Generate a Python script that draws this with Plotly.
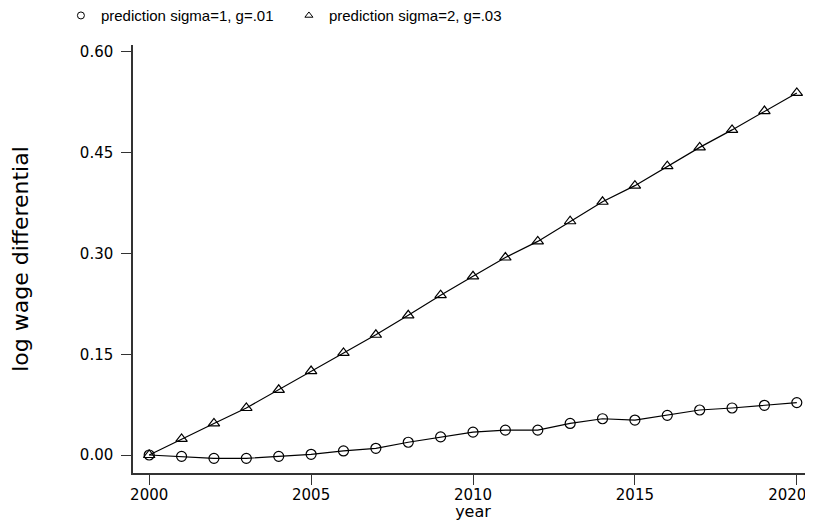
import plotly.graph_objects as go

years = list(range(2000, 2021))
sigma1_g01 = [0.000, -0.002, -0.005, -0.005, -0.002, 0.001, 0.006, 0.010, 0.019, 0.027,
              0.034, 0.037, 0.037, 0.047, 0.054, 0.052, 0.059, 0.067, 0.070, 0.074, 0.078]
sigma2_g03 = [0.000, 0.024, 0.047, 0.070, 0.097, 0.125, 0.152, 0.179, 0.208, 0.238,
              0.266, 0.294, 0.318, 0.348, 0.377, 0.401, 0.430, 0.458, 0.484, 0.512, 0.539]
name1 = "prediction sigma=1, g=.01"
name2 = "prediction sigma=2, g=.03"
x_ticks = [2000, 2005, 2010, 2015, 2020]
# last label padded with trailing no-break spaces so it sits left of its tick, inside the page
x_ticktext = ["2000", "2005", "2010", "2015", "2020" + "\u00a0" * 4]
y_ticks = [0.00, 0.15, 0.30, 0.45, 0.60]

FONT = "Liberation Sans, Arial, sans-serif"
WIDE = "DejaVu Sans, Verdana, sans-serif"

fig = go.Figure()
fig.add_trace(go.Scatter(x=years, y=sigma1_g01, mode="lines+markers", showlegend=False,
                         line=dict(color="black", width=1.2),
                         marker=dict(symbol="circle-open", size=10, color="black",
                                     line=dict(width=1.2, color="black"))))
fig.add_trace(go.Scatter(x=years, y=sigma2_g03, mode="lines+markers", showlegend=False,
                         line=dict(color="black", width=1.2),
                         marker=dict(symbol="triangle-up-open", size=10, color="black",
                                     line=dict(width=1.2, color="black"))))
# legend-only entries (markers only, as in the reference)
fig.add_trace(go.Scatter(x=[None], y=[None], mode="markers", name=name1,
                         marker=dict(symbol="circle-open", size=7, color="black",
                                     line=dict(width=1, color="black"))))
fig.add_trace(go.Scatter(x=[None], y=[None], mode="markers", name=name2,
                         marker=dict(symbol="triangle-up-open", size=7, color="black",
                                     line=dict(width=1, color="black"))))

fig.update_layout(
    width=805, height=513,
    margin=dict(l=125, r=0, t=37, b=48, autoexpand=False),
    paper_bgcolor="white", plot_bgcolor="white",
    font=dict(family=FONT, color="black", size=15),
    legend=dict(orientation="h", x=-0.106, xanchor="left", y=1.107, yanchor="top",
                font=dict(family=FONT, size=15), entrywidth=183, bgcolor="rgba(0,0,0,0)",
                itemclick=False),
    xaxis=dict(range=[1999.5, 2020.5], tickvals=x_ticks, ticktext=x_ticktext,
               ticks="outside", ticklen=10, ticklabelstandoff=-3,
               tickwidth=1, tickcolor="#333", showline=True, linecolor="#333", linewidth=1.5,
               showgrid=False, zeroline=False, ticklabeloverflow="allow",
               tickfont=dict(family=WIDE, size=15),
               title=dict(text="year", font=dict(family=WIDE, size=16), standoff=5)),
    yaxis=dict(range=[-0.0268, 0.6104], tickvals=y_ticks, tickformat=".2f", ticks="outside",
               ticklen=10, tickwidth=1, tickcolor="#333", showline=True, linecolor="#333",
               linewidth=1.5, showgrid=False, zeroline=False, ticklabelstandoff=5,
               tickfont=dict(family=WIDE, size=15),
               title=dict(text="log wage differential", font=dict(family=WIDE, size=22),
                          standoff=49)),
)

fig.write_html("out.html")
